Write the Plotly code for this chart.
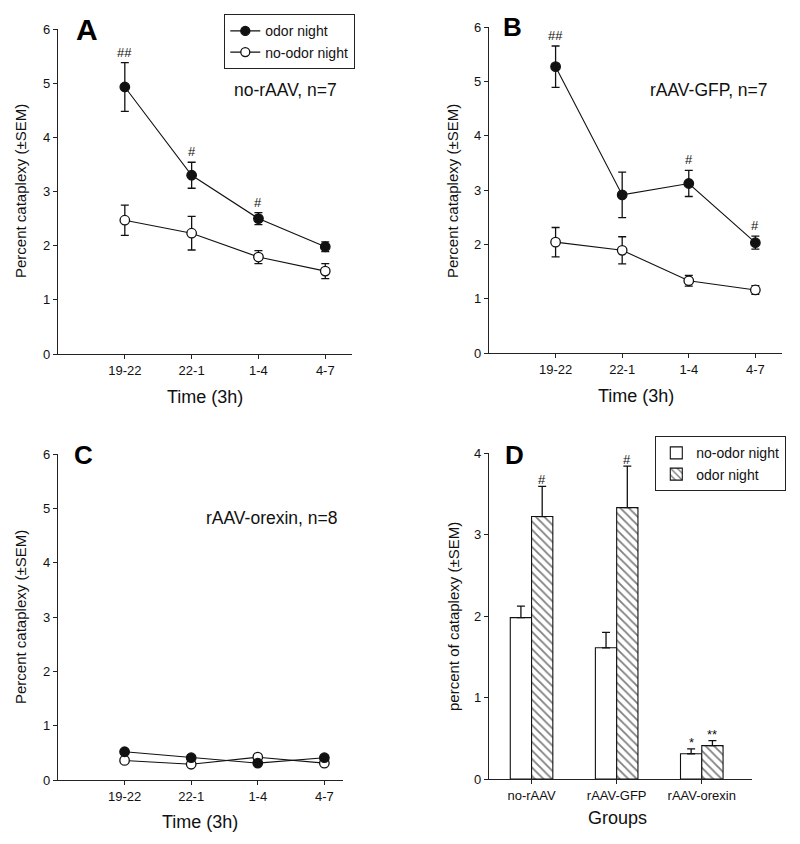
import plotly.graph_objects as go

# ---------------- data ----------------
time_labels = ["19-22", "22-1", "1-4", "4-7"]
time_pos = [1, 2, 3, 4]

# Panel A: no-rAAV, n=7
a_odor = [4.93, 3.30, 2.50, 1.98]
a_odor_sem = [0.45, 0.24, 0.11, 0.09]
a_noodor = [2.47, 2.23, 1.79, 1.53]
a_noodor_sem = [0.28, 0.31, 0.12, 0.14]
a_marks = ["##", "#", "#", ""]

# Panel B: rAAV-GFP, n=7
b_odor = [5.27, 2.91, 3.12, 2.03]
b_odor_sem = [0.38, 0.42, 0.24, 0.12]
b_noodor = [2.04, 1.89, 1.33, 1.16]
b_noodor_sem = [0.27, 0.25, 0.10, 0.08]
b_marks = ["##", "", "#", "#"]

# Panel C: rAAV-orexin, n=8
c_odor = [0.52, 0.41, 0.31, 0.41]
c_odor_sem = [0.04, 0.03, 0.03, 0.04]
c_noodor = [0.36, 0.29, 0.42, 0.31]
c_noodor_sem = [0.03, 0.03, 0.04, 0.03]

# Panel D: group means
groups = ["no-rAAV", "rAAV-GFP", "rAAV-orexin"]
d_noodor = [1.98, 1.61, 0.31]
d_noodor_sem = [0.14, 0.19, 0.06]
d_odor = [3.22, 3.33, 0.41]
d_odor_sem = [0.37, 0.51, 0.06]
d_noodor_marks = ["", "", "*"]
d_odor_marks = ["#", "#", "**"]

# ---------------- figure ----------------
W, H = 800, 844
INK = "#111111"
FONT = "Liberation Sans, Arial, sans-serif"

fig = go.Figure()

def px_x(p):
    return p / W

def px_y(p):
    return 1 - p / H

panels = {
    "A": dict(xa="x", ya="y", xd=[px_x(58), px_x(352)], yd=[px_y(354), px_y(29)], xr=[0, 4.4]),
    "B": dict(xa="x2", ya="y2", xd=[px_x(489), px_x(782)], yd=[px_y(353), px_y(27)], xr=[0, 4.4]),
    "C": dict(xa="x3", ya="y3", xd=[px_x(58), px_x(343)], yd=[px_y(780), px_y(454)], xr=[0, 4.28]),
}

def add_line_panel(key, odor, odor_sem, noodor, noodor_sem, showlegend):
    p = panels[key]
    common = dict(xaxis=p["xa"], yaxis=p["ya"], mode="lines+markers",
                  line=dict(color=INK, width=1.1))
    fig.add_trace(go.Scatter(
        x=time_pos, y=noodor, name="no-odor night", legendgroup="noodor",
        showlegend=False,
        error_y=dict(type="data", array=noodor_sem, color=INK, thickness=1.3, width=4),
        marker=dict(symbol="circle", size=9.5, color="white", line=dict(color=INK, width=1.3)),
        **common))
    fig.add_trace(go.Scatter(
        x=time_pos, y=odor, name="odor night", legendgroup="odor",
        showlegend=False,
        error_y=dict(type="data", array=odor_sem, color=INK, thickness=1.3, width=4),
        marker=dict(symbol="circle", size=9.5, color=INK, line=dict(color=INK, width=1.3)),
        **common))
    if showlegend:
        # legend entries in the order of the reference (odor first)
        fig.add_trace(go.Scatter(
            x=[None], y=[None], xaxis=p["xa"], yaxis=p["ya"], mode="lines+markers",
            name="odor night", line=dict(color=INK, width=1.1),
            marker=dict(symbol="circle", size=9, color=INK, line=dict(color=INK, width=1.3)),
            legend="legend"))
        fig.add_trace(go.Scatter(
            x=[None], y=[None], xaxis=p["xa"], yaxis=p["ya"], mode="lines+markers",
            name="no-odor night", line=dict(color=INK, width=1.1),
            marker=dict(symbol="circle", size=9, color="white", line=dict(color=INK, width=1.3)),
            legend="legend"))

add_line_panel("A", a_odor, a_odor_sem, a_noodor, a_noodor_sem, True)
add_line_panel("B", b_odor, b_odor_sem, b_noodor, b_noodor_sem, False)
add_line_panel("C", c_odor, c_odor_sem, c_noodor, c_noodor_sem, False)

# Panel D bars
fig.add_trace(go.Bar(
    x=groups, y=d_noodor, name="no-odor night", xaxis="x4", yaxis="y4",
    marker=dict(color="white", line=dict(color=INK, width=1.1)),
    error_y=dict(type="data", array=d_noodor_sem, arrayminus=[0] * len(groups),
                 symmetric=False, color=INK, thickness=1.3, width=4),
    legend="legend2", offsetgroup="1"))
fig.add_trace(go.Bar(
    x=groups, y=d_odor, name="odor night", xaxis="x4", yaxis="y4",
    marker=dict(color="white", line=dict(color=INK, width=1.1),
                pattern=dict(shape="\\", fgcolor="#000000", bgcolor="white", size=6,
                             solidity=0.3, fillmode="overlay")),
    error_y=dict(type="data", array=d_odor_sem, arrayminus=[0] * len(groups),
                 symmetric=False, color=INK, thickness=1.3, width=4),
    legend="legend2", offsetgroup="2"))

annotations = []

def add_marks(xa, ya, xs, vals, sems, marks, xshift=0, yshift=1):
    for xv, v, s, m in zip(xs, vals, sems, marks):
        if m:
            annotations.append(dict(
                x=xv, y=v + s, xref=xa, yref=ya, text=m, showarrow=False,
                xanchor="center", yanchor="bottom", xshift=xshift, yshift=yshift,
                font=dict(family=FONT, size=13, color=INK)))

add_marks("x", "y", time_pos, a_odor, a_odor_sem, a_marks)
add_marks("x2", "y2", time_pos, b_odor, b_odor_sem, b_marks)
# bars: offset of each bar within its group (in px)
add_marks("x4", "y4", groups, d_noodor, d_noodor_sem, d_noodor_marks, xshift=-10.5, yshift=-3)
add_marks("x4", "y4", groups, d_odor, d_odor_sem, d_odor_marks, xshift=10.5, yshift=-3)

# Panel letters
for letter, (cx, cy, sz) in {"A": (86.5, 30, 30), "B": (512, 27, 26),
                             "C": (83, 455, 26), "D": (514, 455, 26)}.items():
    annotations.append(dict(x=px_x(cx), y=px_y(cy), xref="paper", yref="paper",
                            text="<b>%s</b>" % letter, showarrow=False,
                            xanchor="center", yanchor="middle",
                            font=dict(family=FONT, size=sz, color="black")))

# Inner panel labels
for txt, cx, cy in [("no-rAAV, n=7", 285.5, 90), ("rAAV-GFP, n=7", 708.5, 90),
                    ("rAAV-orexin, n=8", 271.5, 518)]:
    annotations.append(dict(x=px_x(cx), y=px_y(cy), xref="paper", yref="paper",
                            text=txt, showarrow=False, xanchor="center", yanchor="middle",
                            font=dict(family=FONT, size=17.5, color=INK)))

# Axis titles
for txt, cx, cy in [("Time (3h)", 205, 397), ("Time (3h)", 636, 396),
                    ("Time (3h)", 200, 822), ("Groups", 617, 818)]:
    annotations.append(dict(x=px_x(cx), y=px_y(cy), xref="paper", yref="paper",
                            text=txt, showarrow=False, xanchor="center", yanchor="middle",
                            font=dict(family=FONT, size=18, color=INK)))
for txt, cx, cy in [("Percent cataplexy (±SEM)", 21, 191), ("Percent cataplexy (±SEM)", 453, 191),
                    ("Percent cataplexy (±SEM)", 20, 617), ("percent of cataplexy (±SEM)", 453, 617)]:
    annotations.append(dict(x=px_x(cx), y=px_y(cy), xref="paper", yref="paper",
                            text=txt, showarrow=False, xanchor="center", yanchor="middle",
                            textangle=-90, font=dict(family=FONT, size=15, color=INK)))

axis_common = dict(showline=True, linecolor="#222222", linewidth=1.3, showgrid=False,
                   zeroline=False, ticks="outside", ticklen=4, tickwidth=1.2,
                   tickcolor="#222222", tickfont=dict(family=FONT, size=13, color=INK),
                   fixedrange=True)

layout_axes = {}
for i, key in enumerate(["A", "B", "C"]):
    p = panels[key]
    suffix = "" if i == 0 else str(i + 1)
    layout_axes["xaxis" + suffix] = dict(domain=p["xd"], range=p["xr"], anchor="y" + suffix,
                                         tickmode="array", tickvals=time_pos, ticktext=time_labels,
                                         **axis_common)
    layout_axes["yaxis" + suffix] = dict(domain=p["yd"], range=[0, 6], anchor="x" + suffix,
                                         tickmode="array", tickvals=[0, 1, 2, 3, 4, 5, 6],
                                         **axis_common)
layout_axes["xaxis4"] = dict(domain=[px_x(489), px_x(752)], range=[-0.5, 2.59], anchor="y4",
                             type="category", **axis_common)
layout_axes["yaxis4"] = dict(domain=[px_y(779), px_y(453)], range=[0, 4], anchor="x4",
                             tickmode="array", tickvals=[0, 1, 2, 3, 4], **axis_common)

fig.update_layout(
    width=W, height=H, margin=dict(l=0, r=0, t=0, b=0, autoexpand=False),
    paper_bgcolor="white", plot_bgcolor="white",
    font=dict(family=FONT, color=INK),
    barmode="group", bargap=0.5, bargroupgap=0,
    showlegend=True,
    legend=dict(x=px_x(224), y=px_y(14), xanchor="left", yanchor="top",
                bordercolor="#222222", borderwidth=1.3, bgcolor="white",
                font=dict(family=FONT, size=14, color=INK), tracegroupgap=0,
                itemwidth=30),
    legend2=dict(x=px_x(655), y=px_y(436), xanchor="left", yanchor="top",
                 bordercolor="#222222", borderwidth=1.3, bgcolor="white",
                 font=dict(family=FONT, size=14, color=INK), tracegroupgap=0,
                 itemwidth=30),
    annotations=annotations,
    **layout_axes,
)

fig.write_html("out.html", config={"displayModeBar": False},
               post_script="document.body.style.margin='0';document.body.style.overflow='hidden';")
